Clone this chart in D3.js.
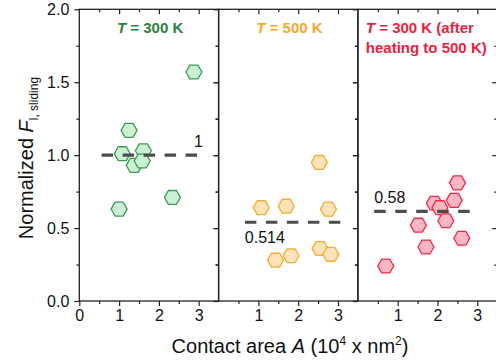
<!DOCTYPE html>
<html><head><meta charset="utf-8">
<script src="https://cdn.jsdelivr.net/npm/d3@7"></script>
<style>body{margin:0;background:#fff}svg{display:block}</style>
</head><body>
<script>
// ---- data ----
const panelTitles = [["T = 300 K"], ["T = 500 K"], ["T = 300 K (after", "heating to 500 K)"]];
const p1x = [2.88, 1.25, 1.08, 1.61, 1.38, 1.58, 2.34, 1.00];
const p1y = [1.57, 1.17, 1.01, 1.03, 0.93, 0.96, 0.71, 0.63];
const p2x = [2.53, 1.07, 1.70, 2.76, 2.55, 2.82, 1.82, 1.43];
const p2y = [0.95, 0.64, 0.65, 0.63, 0.36, 0.32, 0.31, 0.28];
const p3x = [2.50, 2.42, 1.92, 2.06, 2.21, 1.52, 2.61, 1.71, 0.70];
const p3y = [0.81, 0.69, 0.67, 0.64, 0.55, 0.52, 0.43, 0.37, 0.24];
const meanValues = [1.0, 0.54, 0.614];
const meanLabels = ["1", "0.514", "0.58"];
const meanStart = [0.56, 0.66, 0.41];
const meanEnd = [3.06, 3.18, 2.9];
const xTicksFirst = [0, 1, 2, 3];
const xTicksOther = [1, 2, 3];
const yTicks = [0, 0.5, 1.0, 1.5, 2.0];

// ---- style ----
const W = 496, H = 364;
const x0 = 79.3, panelW = 139.3, yTop = 9.3, yBot = 301;
const titleColors = ["#2f8040", "#f5a92a", "#ee1d3d"];
const strokeColors = ["#3d9b55", "#f3ad30", "#ec2b4b"];
const fillColors = ["#cbf1d4", "#fde3ba", "#fbb6c4"];
const font = "Arial, 'Liberation Sans', sans-serif";
const axisColor = "#222";

const svg = d3.select("body").append("svg").attr("width", W).attr("height", H)
  .style("font-family", font);

const y = d3.scaleLinear().domain([0, 2]).range([yBot, yTop]);
const panels = [
  {xs: p1x, ys: p1y}, {xs: p2x, ys: p2y}, {xs: p3x, ys: p3y}
];

const hex = r => {
  const pts = d3.range(6).map(i => [r * Math.cos(i * Math.PI / 3), r * Math.sin(i * Math.PI / 3)]);
  return "M" + pts.map(p => p.join(",")).join("L") + "Z";
};

function styleAxis(g) {
  g.select(".domain").remove();
  g.selectAll("line").attr("stroke", axisColor).attr("stroke-width", 1.2);
  g.selectAll("text").attr("fill", "#111").style("font-family", font).style("font-size", "16px");
}

panels.forEach((p, i) => {
  const left = x0 + i * panelW;
  const x = d3.scaleLinear().domain([0, 3.5]).range([left, left + panelW]);
  const g = svg.append("g");

  // bottom axis (outward)
  g.append("g").attr("transform", `translate(0,${yBot})`)
    .call(d3.axisBottom(x).tickValues([0.5, 1.5, 2.5]).tickSize(3).tickFormat(""))
    .call(styleAxis);
  g.append("g").attr("transform", `translate(0,${yBot})`)
    .call(d3.axisBottom(x).tickValues(i === 0 ? xTicksFirst : xTicksOther).tickSize(5).tickPadding(4)
      .tickFormat(d3.format("d")))
    .call(styleAxis);
  // top axis (inward)
  g.append("g").attr("transform", `translate(0,${yTop})`)
    .call(d3.axisBottom(x).tickValues([0.5, 1.5, 2.5]).tickSize(3).tickFormat(""))
    .call(styleAxis);
  g.append("g").attr("transform", `translate(0,${yTop})`)
    .call(d3.axisBottom(x).tickValues([1, 2, 3]).tickSize(5).tickFormat(""))
    .call(styleAxis);
  // left axis (outward)
  g.append("g").attr("transform", `translate(${left},0)`)
    .call(d3.axisLeft(y).tickValues([0.25, 0.75, 1.25, 1.75]).tickSize(3).tickFormat(""))
    .call(styleAxis);
  g.append("g").attr("transform", `translate(${left},0)`)
    .call(d3.axisLeft(y).tickValues(yTicks).tickSize(5).tickPadding(5)
      .tickFormat(i === 0 ? d3.format(".1f") : ""))
    .call(styleAxis);
  // right axis (inward)
  g.append("g").attr("transform", `translate(${left + panelW},0)`)
    .call(d3.axisLeft(y).tickValues([0.25, 0.75, 1.25, 1.75]).tickSize(3).tickFormat(""))
    .call(styleAxis);
  g.append("g").attr("transform", `translate(${left + panelW},0)`)
    .call(d3.axisLeft(y).tickValues([0.5, 1.0, 1.5]).tickSize(5).tickFormat(""))
    .call(styleAxis);

  // frame
  g.append("rect").attr("x", left).attr("y", yTop).attr("width", panelW).attr("height", yBot - yTop)
    .attr("fill", "none").attr("stroke", axisColor).attr("stroke-width", 1.3);

  // points
  g.selectAll("path.pt").data(p.xs.map((d, k) => [d, p.ys[k]])).join("path")
    .attr("class", "pt")
    .attr("d", hex(8))
    .attr("transform", d => `translate(${x(d[0])},${y(d[1])})`)
    .attr("fill", fillColors[i]).attr("stroke", strokeColors[i]).attr("stroke-width", 1.3);

  // mean line
  g.append("line")
    .attr("x1", x(meanStart[i])).attr("x2", x(meanEnd[i]))
    .attr("y1", y(meanValues[i])).attr("y2", y(meanValues[i]))
    .attr("stroke", "#4d4d4d").attr("stroke-width", 3.2).attr("stroke-dasharray", "11.5,9.5");

  // mean label
  const lbl = g.append("text").attr("font-size", 16).attr("fill", "#111").text(meanLabels[i]);
  if (i === 0) lbl.attr("x", x(2.88)).attr("y", y(meanValues[i]) - 8);
  else if (i === 1) lbl.attr("x", x(0.66)).attr("y", y(meanValues[i]) + 21);
  else lbl.attr("x", x(0.41)).attr("y", y(meanValues[i]) - 8);

  // title
  const t = g.append("text").attr("font-size", 15).attr("font-weight", "bold").attr("fill", titleColors[i]);
  panelTitles[i].forEach((line, k) => {
    const ts = t.append("tspan").attr("y", 33 + k * 20);
    if (i < 2) ts.attr("x", x(1.78)).attr("text-anchor", "middle");
    else ts.attr("x", x(0.2));
    if (line.startsWith("T")) {
      ts.append("tspan").attr("font-style", "italic").text("T");
      ts.append("tspan").text(line.slice(1));
    } else ts.text(line);
  });
});

// x title
const xt = svg.append("text").attr("x", 290).attr("y", 353).attr("text-anchor", "middle")
  .attr("font-size", 20).attr("fill", "#111");
xt.append("tspan").text("Contact area ");
xt.append("tspan").attr("font-style", "italic").text("A");
xt.append("tspan").text(" (10");
xt.append("tspan").attr("font-size", 12).attr("dy", -8).text("4");
xt.append("tspan").attr("dy", 8).text(" x nm");
xt.append("tspan").attr("font-size", 12).attr("dy", -8).text("2");
xt.append("tspan").attr("dy", 8).text(")");

// y title
const yt = svg.append("text").attr("transform", `translate(33,${158}) rotate(-90)`)
  .attr("text-anchor", "middle").attr("font-size", 20).attr("fill", "#111");
yt.append("tspan").text("Normalized ");
yt.append("tspan").attr("font-style", "italic").text("F");
yt.append("tspan").attr("font-size", 12).attr("dy", 5).text("l, sliding");
</script>
</body></html>
